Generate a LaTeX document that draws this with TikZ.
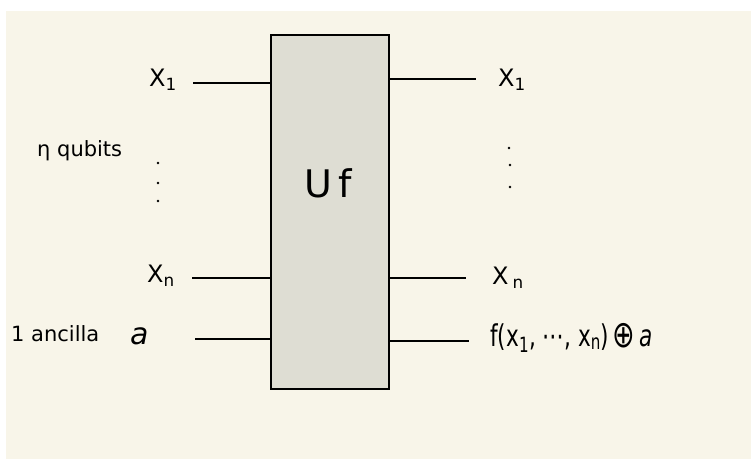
\documentclass[tikz,border=0pt]{standalone}
\usepackage{fontspec}
\setmainfont{DejaVu Sans}
\definecolor{cream}{HTML}{F8F5E9}
\definecolor{boxfill}{HTML}{DEDDD3}
\begin{document}
\begin{tikzpicture}[x=1pt,y=-1pt,
  wire/.style={line width=2.2pt},
  lbl/.style={font=\fontsize{24}{26}\selectfont, inner sep=0pt},
  small/.style={font=\fontsize{21}{24}\selectfont, inner sep=0pt},
  dot/.style={circle, fill=black, inner sep=0pt, minimum size=2.6pt}]
\useasboundingbox (0,0) rectangle (751,459);
\fill[white] (0,0) rectangle (751,459);
\fill[cream] (6,11) rectangle (751,459);
\node[draw, line width=2.2pt, fill=boxfill, minimum width=118pt, minimum height=354pt, inner sep=0pt] (U) at (330,212) {};
\node[font=\fontsize{38}{40}\selectfont, inner sep=0pt] (Ul) at (328,183) {U\,f};
\coordinate (l1) at (193,83);
\coordinate (ln) at (192,278);
\coordinate (la) at (195,339);
\coordinate (r1) at (476,79);
\coordinate (rn) at (466,278);
\coordinate (ra) at (469,341);
\draw[wire] (l1) -- (l1 -| U.west);
\draw[wire] (ln) -- (ln -| U.west);
\draw[wire] (la) -- (la -| U.west);
\draw[wire] (r1 -| U.east) -- (r1);
\draw[wire] (rn -| U.east) -- (rn);
\draw[wire] (ra -| U.east) -- (ra);
% left labels
\node[lbl, anchor=east] (x1) at (177,80) {X\textsubscript{1}};
\node[lbl, anchor=east] (xn) at (175,276) {X\textsubscript{n}};
\node[small, anchor=west] (nq) at (37,151) {η qubits};
\node[dot] (dl1) at (158,163) {};
\node[dot] (dl2) at (158,183) {};
\node[dot] (dl3) at (158,201) {};
\node[small, anchor=west] (anc) at (11,334) {1 ancilla};
\node[anchor=west, inner sep=0pt, font=\fontsize{30}{32}\selectfont\itshape] (a) at (130,336) {a};
% right labels
\node[lbl, anchor=west] (y1) at (498,80) {X\textsubscript{1}};
\node[dot] (dr1) at (509,148) {};
\node[dot] (dr2) at (510,165) {};
\node[dot] (dr3) at (510,187) {};
\node[lbl, anchor=west] (yn) at (492,278) {X\,\textsubscript{n}};
\node[anchor=west, inner sep=0pt, font=\fontsize{30}{32}\selectfont] (fa) at (490,338) {\scalebox{0.72}[1]{f(x\textsubscript{1}, ⋯, x\textsubscript{n})\,\raisebox{-0.1ex}{\scalebox{1.25}{⊕}}\,\textit{a}}};
\end{tikzpicture}
\end{document}
